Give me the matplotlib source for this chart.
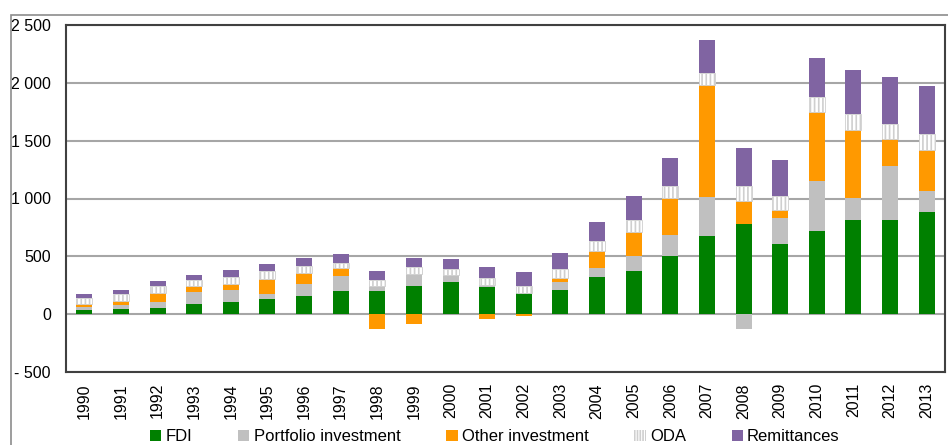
import matplotlib
matplotlib.use("Agg")
import matplotlib.pyplot as plt
import numpy as np
from matplotlib.patches import Rectangle, Patch

plt.rcParams['font.family'] = ['Liberation Sans', 'DejaVu Sans']
plt.rcParams['hatch.linewidth'] = 1.2

years = [str(y) for y in range(1990, 2014)]
fdi = [35, 43, 52, 87, 104, 130, 156, 200, 200, 243, 278, 234, 182, 208, 321, 373, 504, 677, 781, 608, 721, 816, 816, 886]
portfolio = [26, 35, 52, 104, 104, 44, 104, 130, 43, 104, 61, 17, 0, 70, 78, 131, 182, 339, -127, 225, 434, 191, 469, 182]
other = [26, 35, 78, 52, 52, 130, 96, 69, -130, -87, 0, -43, -15, 35, 148, 208, 321, 963, 200, 70, 590, 582, 226, 347]
oda = [52, 61, 61, 52, 61, 69, 61, 44, 52, 61, 52, 61, 61, 78, 87, 104, 104, 105, 130, 121, 130, 139, 130, 139]
remittances = [35, 35, 44, 44, 61, 61, 69, 78, 78, 78, 87, 95, 122, 139, 165, 208, 235, 286, 322, 313, 339, 382, 408, 417]

series_names = ["FDI", "Portfolio investment", "Other investment", "ODA", "Remittances"]
ytick_vals = [-500, 0, 500, 1000, 1500, 2000, 2500]
ytick_labels = ["- 500", "0", "500", "1 000", "1 500", "2 000", "2 500"]

colors = ["#008000", "#c0c0c0", "#ff9900", "white", "#8064a2"]

fig = plt.figure(figsize=(9.48, 4.45), dpi=100)
ax = fig.add_axes([66/948, 1-372/445, (945-66)/948, (372-25)/445])

x = np.arange(len(years))
w = 0.44
pos_bottom = np.zeros(len(years))
neg_bottom = np.zeros(len(years))
all_series = [fdi, portfolio, other, oda, remittances]
for name, vals, col in zip(series_names, all_series, colors):
    v = np.array(vals, dtype=float)
    bottoms = np.where(v >= 0, pos_bottom, neg_bottom)
    if name == "ODA":
        ax.bar(x, v, w, bottom=bottoms, facecolor="white", edgecolor="#cfcfcf",
               hatch="||||", linewidth=0.6, zorder=3)
    else:
        ax.bar(x, v, w, bottom=bottoms, color=col, linewidth=0, zorder=3)
    pos_bottom = pos_bottom + np.where(v >= 0, v, 0)
    neg_bottom = neg_bottom + np.where(v < 0, v, 0)

ax.set_xlim(-0.5, len(years) - 0.5)
ax.set_ylim(-500, 2500)
ax.set_yticks(ytick_vals)
ax.set_yticklabels(ytick_labels, fontsize=11.5)
ax.set_xticks(x)
ax.set_xticklabels(years, rotation=90, fontsize=11.5)
ax.tick_params(axis='y', length=0, pad=10.8)
ax.tick_params(axis='x', length=0, pad=8)
ax.yaxis.grid(True, color="#a6a6a6", linewidth=1.5, zorder=0)
ax.set_axisbelow(True)
for s in ax.spines.values():
    s.set_color("#404040")
    s.set_linewidth(1.5)

# outer chart border
fig.patches.append(Rectangle((11/948, -0.1), 1.0, 1 - 15/445 + 0.1, transform=fig.transFigure,
                             fill=False, edgecolor="#8c8c8c", linewidth=1.2))

handles = [Patch(facecolor=colors[0], edgecolor="none"),
           Patch(facecolor=colors[1], edgecolor="none"),
           Patch(facecolor=colors[2], edgecolor="none"),
           Patch(facecolor="white", edgecolor="#cfcfcf", hatch="||||||", linewidth=0),
           Patch(facecolor=colors[4], edgecolor="none")]
fig.legend(handles, series_names, loc="center", bbox_to_anchor=(0.522, 0.018), ncol=5,
           frameon=False, fontsize=12, handlelength=0.68, handleheight=0.68,
           handletextpad=0.25, columnspacing=2.75)

fig.savefig("out.png", dpi=100)
